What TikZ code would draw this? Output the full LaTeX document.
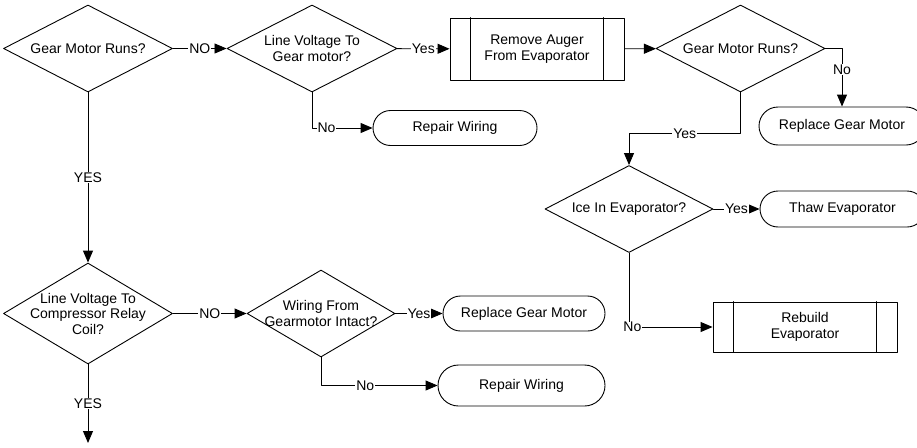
\documentclass[tikz,border=0pt]{standalone}
\usepackage{fontspec}
\setmainfont{Liberation Sans}
\usetikzlibrary{shapes.geometric,shapes.misc,arrows.meta}

\begin{document}
\begin{tikzpicture}[line cap=round,line join=round,>={Triangle[length=12pt,width=10pt]},x=1pt,y=-1pt,
		every node/.style={font=\fontsize{14}{15.5}\selectfont},
		decision/.style={draw,diamond,inner sep=0pt,line width=0.9pt},
		txt/.style={align=center,inner sep=0pt},
		terminal/.style={draw,rounded rectangle,inner xsep=-10pt,line width=0.9pt},
		process/.style={draw,rectangle,align=center,line width=0.9pt},
		lbl/.style={fill=white,inner xsep=1pt,inner ysep=0.5pt},
		link/.style={->,line width=0.9pt}]
		\useasboundingbox (0,0) rectangle (917,447);
		\node[decision,minimum width=169pt,minimum height=87pt,label={[txt]center:Gear Motor Runs?}] (runsA) at (88,48.5) {};
		\node[decision,minimum width=170pt,minimum height=87pt,label={[txt]center:Line Voltage To\\Gear motor?}] (voltA) at (312,48.5) {};
		\node[process,minimum width=174pt,minimum height=62pt] (auger) at (537,49) {Remove Auger\\From Evaporator};
		\node[decision,minimum width=169pt,minimum height=87pt,label={[txt]center:Gear Motor Runs?}] (runsB) at (740.5,48.5) {};
		\node[terminal,minimum width=144pt,minimum height=35pt] (rwA) at (455,128) {Repair Wiring};
		\node[terminal,minimum width=146pt,minimum height=38pt] (rgmA) at (842,126) {Replace Gear Motor};
		\node[decision,minimum width=168pt,minimum height=87pt,label={[txt]center:Ice In Evaporator?}] (ice) at (629,209) {};
		\node[terminal,minimum width=145pt,minimum height=36pt] (thaw) at (842.5,209) {Thaw Evaporator};
		\node[process,minimum width=184pt,minimum height=50pt] (rebuild) at (805,327) {Rebuild\\Evaporator};
		\node[decision,minimum width=169pt,minimum height=101pt,label={[txt]center:Line Voltage To\\Compressor Relay\\Coil?}] (voltB) at (88,313.5) {};
		\node[decision,minimum width=148pt,minimum height=87pt,label={[txt]center:Wiring From\\Gearmotor Intact?}] (wiring) at (321,313.5) {};
		\node[terminal,minimum width=142pt,minimum height=35pt] (rgmB) at (524,313.5) {Replace Gear Motor};
		\node[terminal,minimum width=147pt,minimum height=41pt] (rwB) at (521.5,385.5) {Repair Wiring};
		\coordinate (next) at (88,443);
		\foreach \b in {auger,rebuild} {
			\draw[line width=0.9pt] ([xshift=21pt]\b.north west) -- ([xshift=21pt]\b.south west);
			\draw[line width=0.9pt] ([xshift=-21pt]\b.north east) -- ([xshift=-21pt]\b.south east);
		}
		\draw[link] (runsA) -- node[lbl] {NO} (voltA);
		\draw[link] (voltA) -- node[lbl] {Yes} (auger);
		\draw[link] (voltA.south) |- node[lbl,pos=0.62] {No} (rwA);
		\draw[link] (auger) -- (runsB);
		\draw[link] (runsB.east) -| node[lbl,pos=0.68] {No} (rgmA.north);
		\draw[link] (runsB.south) -- ++(0,41) -| node[lbl,pos=0.25] {Yes} (ice.north);
		\draw[link] (ice) -- node[lbl] {Yes} (thaw);
		\draw[link] (ice.south) |- node[lbl,pos=0.52] {No} (rebuild);
		\draw[link] (runsA) -- node[lbl] {YES} (voltB);
		\draw[link] (voltB) -- node[lbl] {NO} (wiring);
		\draw[link] (wiring) -- node[lbl] {Yes} (rgmB);
		\draw[link] (wiring.south) |- node[lbl,pos=0.69] {No} (rwB);
		\draw[link] (voltB) -- node[lbl] {YES} (next);
	\end{tikzpicture}
\end{document}
